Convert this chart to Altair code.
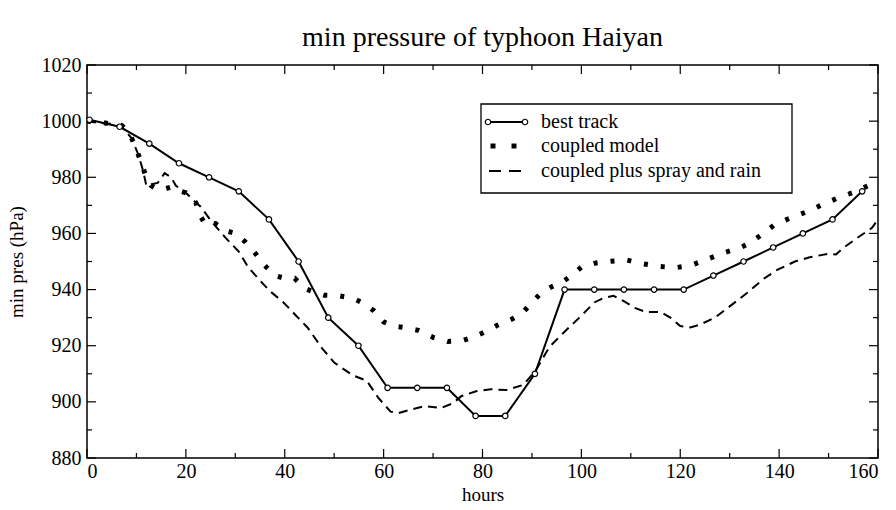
import altair as alt
import pandas as pd

# ---- data ----
best_hours = [0.5, 6.6, 12.6, 18.6, 24.7, 30.7, 36.8, 42.8, 48.8, 54.9, 60.8, 66.8, 72.8,
              78.6, 84.6, 90.6, 96.6, 102.6, 108.6, 114.7, 120.7, 126.7, 132.8, 138.8,
              144.8, 150.8, 156.8]
best_pres = [1000.5, 998, 992, 985, 980, 975, 965, 950, 930, 920, 905, 905, 905, 895, 895,
             910, 940, 940, 940, 940, 940, 945, 950, 955, 960, 965, 975]

coupled_hours = [0, 3, 5, 7, 8, 9, 10, 11, 12, 13, 14, 15, 16, 17, 18, 20, 22, 23, 24, 26, 28,
                 30, 32, 34, 36, 38, 40, 42, 44, 46, 48, 51, 54, 56, 58, 60, 62, 64, 67, 70,
                 73, 76, 78, 80, 83, 86, 88, 90, 92, 94, 96, 98, 100, 103, 106, 109, 112,
                 116, 119, 122, 126, 129, 132, 134, 136, 139, 142, 146, 149, 152, 155, 158,
                 160]
coupled_pres = [1000, 999.5, 999, 998.5, 997, 994, 990, 985, 980, 977, 976, 975.5, 976,
                976.5, 975.5, 974.5, 971, 966, 963, 963.5, 961, 960, 957, 953, 948.5, 945,
                944, 944, 940.5, 939, 938, 937.8, 936.8, 935, 932.5, 928.5, 927, 926.5,
                925.5, 923, 921.5, 921.8, 923, 924.5, 927.3, 929.5, 931.5, 935.5, 939, 941,
                942.5, 945, 948, 949.5, 950.1, 950.6, 949.3, 948.2, 947.8, 948.5, 951.2,
                953.2, 954.8, 956.5, 959, 963, 965.3, 968, 970.5, 972.7, 974.6, 977, 978]

spray_hours = [0, 2, 5, 7, 9, 10.4, 11.4, 12, 13, 14.3, 15.7, 17, 18, 20, 22, 23, 25.3, 28,
               30.7, 32.6, 34.6, 36.9, 39.7, 42.4, 44.6, 47.6, 50, 53.7, 56.6, 58.9, 61.4,
               63, 65, 68.4, 71.6, 74, 75.7, 78.7, 81.7, 84.8, 88.2, 90.7, 93.5, 96.6,
               99.6, 102.7, 104.5, 106.5, 108.5, 110.8, 113, 116, 118, 120, 122, 124, 127,
               130, 133.5, 137, 139.6, 143.2, 146.2, 149.7, 151.5, 153.1, 155.8, 158.8, 160]
spray_pres = [1000, 999.5, 999, 998, 994, 988, 982, 977, 977.5, 978, 981.5, 980, 977, 974.5,
              971, 969.5, 964, 958.5, 953.5, 948, 944, 939.6, 935.5, 930.5, 926.5, 919, 914,
              909.5, 907.5, 901.5, 896.5, 896, 897, 898.5, 897.8, 899.5, 902, 903.8, 904.5,
              904.2, 906, 911, 919.5, 925, 930, 935.5, 937, 937.8, 936, 933.5, 932, 932,
              930, 927, 926.5, 927.5, 930, 934, 938.8, 944, 947, 950, 951.5, 952.7, 952.5,
              955, 958.4, 962, 965]

x_major = [0, 20, 40, 60, 80, 100, 120, 140, 160]
x_minor = [10, 30, 50, 70, 90, 110, 130, 150]
y_major = [880, 900, 920, 940, 960, 980, 1000, 1020]
y_minor = [890, 910, 930, 950, 970, 990, 1010]

legend_labels = ["best track", "coupled model", "coupled plus spray and rain"]

# ---- layout ----
W, H = 791, 393
FONT = "Liberation Serif"

xs = alt.Scale(domain=[0, 160], nice=False, zero=False)
ys = alt.Scale(domain=[880, 1020], nice=False, zero=False)

best_df = pd.DataFrame({"hours": best_hours, "pres": best_pres})
coupled_df = pd.DataFrame({"hours": coupled_hours, "pres": coupled_pres})
spray_df = pd.DataFrame({"hours": spray_hours, "pres": spray_pres})

X = alt.X("hours:Q", scale=xs, title="hours",
          axis=alt.Axis(values=x_major, ticks=False, domain=False, grid=False, format="d",
                        labelPadding=3, titlePadding=4, labelFont=FONT, titleFont=FONT,
                        labelFontSize=20, titleFontSize=19, labelColor="black",
                        titleColor="black", titleFontWeight="normal"))
Y = alt.Y("pres:Q", scale=ys, title="min pres (hPa)",
          axis=alt.Axis(values=y_major, ticks=False, domain=False, grid=False, format="d",
                        labelPadding=6, titlePadding=15, labelFont=FONT, titleFont=FONT,
                        labelFontSize=20, titleFontSize=19, labelColor="black",
                        titleColor="black", titleFontWeight="normal"))

coupled = alt.Chart(coupled_df).mark_line(
    color="black", strokeWidth=5, strokeDash=[4, 13], strokeCap="butt"
).encode(x=X, y=Y)

spray = alt.Chart(spray_df).mark_line(
    color="black", strokeWidth=2, strokeDash=[9, 6]
).encode(x="hours:Q", y="pres:Q")

best_line = alt.Chart(best_df).mark_line(color="black", strokeWidth=2).encode(
    x="hours:Q", y="pres:Q")
best_pts = alt.Chart(best_df).mark_point(
    shape="circle", size=30, filled=True, fill="white", stroke="black", strokeWidth=1.2,
    opacity=1
).encode(x="hours:Q", y="pres:Q")

# inward ticks on all four sides
def xticks(vals, length):
    d = pd.DataFrame({"hours": vals})
    bot = alt.Chart(d).mark_rule(color="black", strokeWidth=1.2).encode(
        x="hours:Q", y=alt.value(H), y2=alt.value(H - length))
    top = alt.Chart(d).mark_rule(color="black", strokeWidth=1.2).encode(
        x="hours:Q", y=alt.value(0), y2=alt.value(length))
    return [bot, top]

def yticks(vals, length):
    d = pd.DataFrame({"pres": vals})
    left = alt.Chart(d).mark_rule(color="black", strokeWidth=1.2).encode(
        y="pres:Q", x=alt.value(0), x2=alt.value(length))
    right = alt.Chart(d).mark_rule(color="black", strokeWidth=1.2).encode(
        y="pres:Q", x=alt.value(W), x2=alt.value(W - length))
    return [left, right]

ticks = xticks(x_major, 9) + xticks(x_minor, 5) + yticks(y_major, 9) + yticks(y_minor, 5)

# legend box (manual)
one = alt.Data(values=[{"a": 1}])
lx0, lx1, ly0, ly1 = 394, 705, 39, 128
row_y = [57, 81, 106]
leg = [
    alt.Chart(one).mark_rect(fill="white", stroke="black", strokeWidth=1.3).encode(
        x=alt.value(lx0), x2=alt.value(lx1), y=alt.value(ly0), y2=alt.value(ly1)),
    alt.Chart(one).mark_rule(color="black", strokeWidth=2).encode(
        x=alt.value(401), x2=alt.value(438), y=alt.value(row_y[0])),
    alt.Chart(one).mark_point(shape="circle", size=30, filled=True, fill="white",
                              stroke="black", strokeWidth=1.2, opacity=1).encode(
        x=alt.value(401), y=alt.value(row_y[0])),
    alt.Chart(one).mark_point(shape="circle", size=30, filled=True, fill="white",
                              stroke="black", strokeWidth=1.2, opacity=1).encode(
        x=alt.value(438), y=alt.value(row_y[0])),
    alt.Chart(one).mark_square(size=25, color="black", opacity=1).encode(
        x=alt.value(406), y=alt.value(row_y[1])),
    alt.Chart(one).mark_square(size=25, color="black", opacity=1).encode(
        x=alt.value(427), y=alt.value(row_y[1])),
    alt.Chart(one).mark_rule(color="black", strokeWidth=2).encode(
        x=alt.value(402), x2=alt.value(414), y=alt.value(row_y[2])),
    alt.Chart(one).mark_rule(color="black", strokeWidth=2).encode(
        x=alt.value(422), x2=alt.value(434), y=alt.value(row_y[2])),
]
for lab, yy in zip(legend_labels, row_y):
    leg.append(alt.Chart(one).mark_text(
        font=FONT, fontSize=20, align="left", baseline="middle", color="black"
    ).encode(x=alt.value(454), y=alt.value(yy), text=alt.value(lab)))

chart = alt.layer(
    *ticks, spray, coupled, best_line, best_pts, *leg
).properties(
    width=W, height=H,
    title=alt.TitleParams("min pressure of typhoon Haiyan", font=FONT, fontSize=28,
                          fontWeight="normal", color="black", anchor="middle", offset=3),
    autosize=alt.AutoSizeParams(type="none"),
    padding={"left": 87, "top": 65, "right": 18, "bottom": 52},
    background="white",
).configure_view(
    stroke="black", strokeWidth=1.5
)

chart.save("out.html", embed_options={"renderer": "svg", "actions": False})
